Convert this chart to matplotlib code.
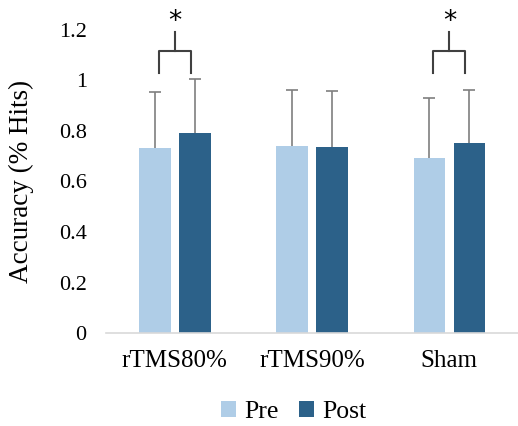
import numpy as np
import matplotlib.pyplot as plt

plt.rcParams['font.family'] = ['Liberation Serif', 'DejaVu Serif']

groups = ['rTMS80%', 'rTMS90%', 'Sham']
pre = [0.733, 0.740, 0.693]
post = [0.792, 0.737, 0.754]
pre_err = [0.222, 0.223, 0.239]
post_err = [0.214, 0.219, 0.207]
sig_groups = [0, 2]

fig = plt.figure(figsize=(5.18, 4.26), dpi=100)
ax = fig.add_axes([0.205, 0.218, 0.795, 0.712])

x = np.arange(len(groups))
w = 0.23
off = 0.146
ekw = dict(ecolor='#7f7f7f', elinewidth=1.2, capsize=4, capthick=1.2)
b1 = ax.bar(x - off, pre, w, color='#afcde7', label='Pre', yerr=[np.zeros(3), pre_err], error_kw=ekw)
b2 = ax.bar(x + off, post, w, color='#2c6189', label='Post', yerr=[np.zeros(3), post_err], error_kw=ekw)
# only keep the upper caps
for b in (b1, b2):
    b.errorbar.lines[1][0].set_visible(False)

# significance brackets
for g in sig_groups:
    xl = g - off + 0.03
    xr = g + off - 0.03
    ax.plot([xl, xl, xr, xr], [1.03, 1.115, 1.115, 1.03], color='#404040', lw=1.5, clip_on=False)
    ax.plot([g, g], [1.115, 1.19], color='#404040', lw=1.5, clip_on=False)
    ax.text(g, 1.18, '*', ha='center', va='bottom', fontsize=19,
            family='DejaVu Sans', clip_on=False)

ax.set_xlim(-0.5, 2.5)
ax.set_ylim(0, 1.2)
ax.set_yticks([0, 0.2, 0.4, 0.6, 0.8, 1.0, 1.2])
ax.set_yticklabels(['0', '0.2', '0.4', '0.6', '0.8', '1', '1.2'], fontsize=16)
ax.set_xticks(x)
ax.set_xticklabels(groups, fontsize=18)
ax.tick_params(length=0, pad=12)
ax.tick_params(axis='y', pad=14)
ax.set_ylabel('Accuracy (% Hits)', fontsize=19.5, labelpad=18)
for s in ['top', 'right', 'left']:
    ax.spines[s].set_visible(False)
ax.spines['bottom'].set_color('#d9d9d9')
ax.spines['bottom'].set_linewidth(1.2)

ax.legend(loc='center', bbox_to_anchor=(0.455, -0.26), ncol=2, frameon=False, fontsize=18.5,
          handlelength=0.6, handleheight=0.6, handletextpad=0.3, columnspacing=0.8)

fig.savefig('out.png', dpi=100)
